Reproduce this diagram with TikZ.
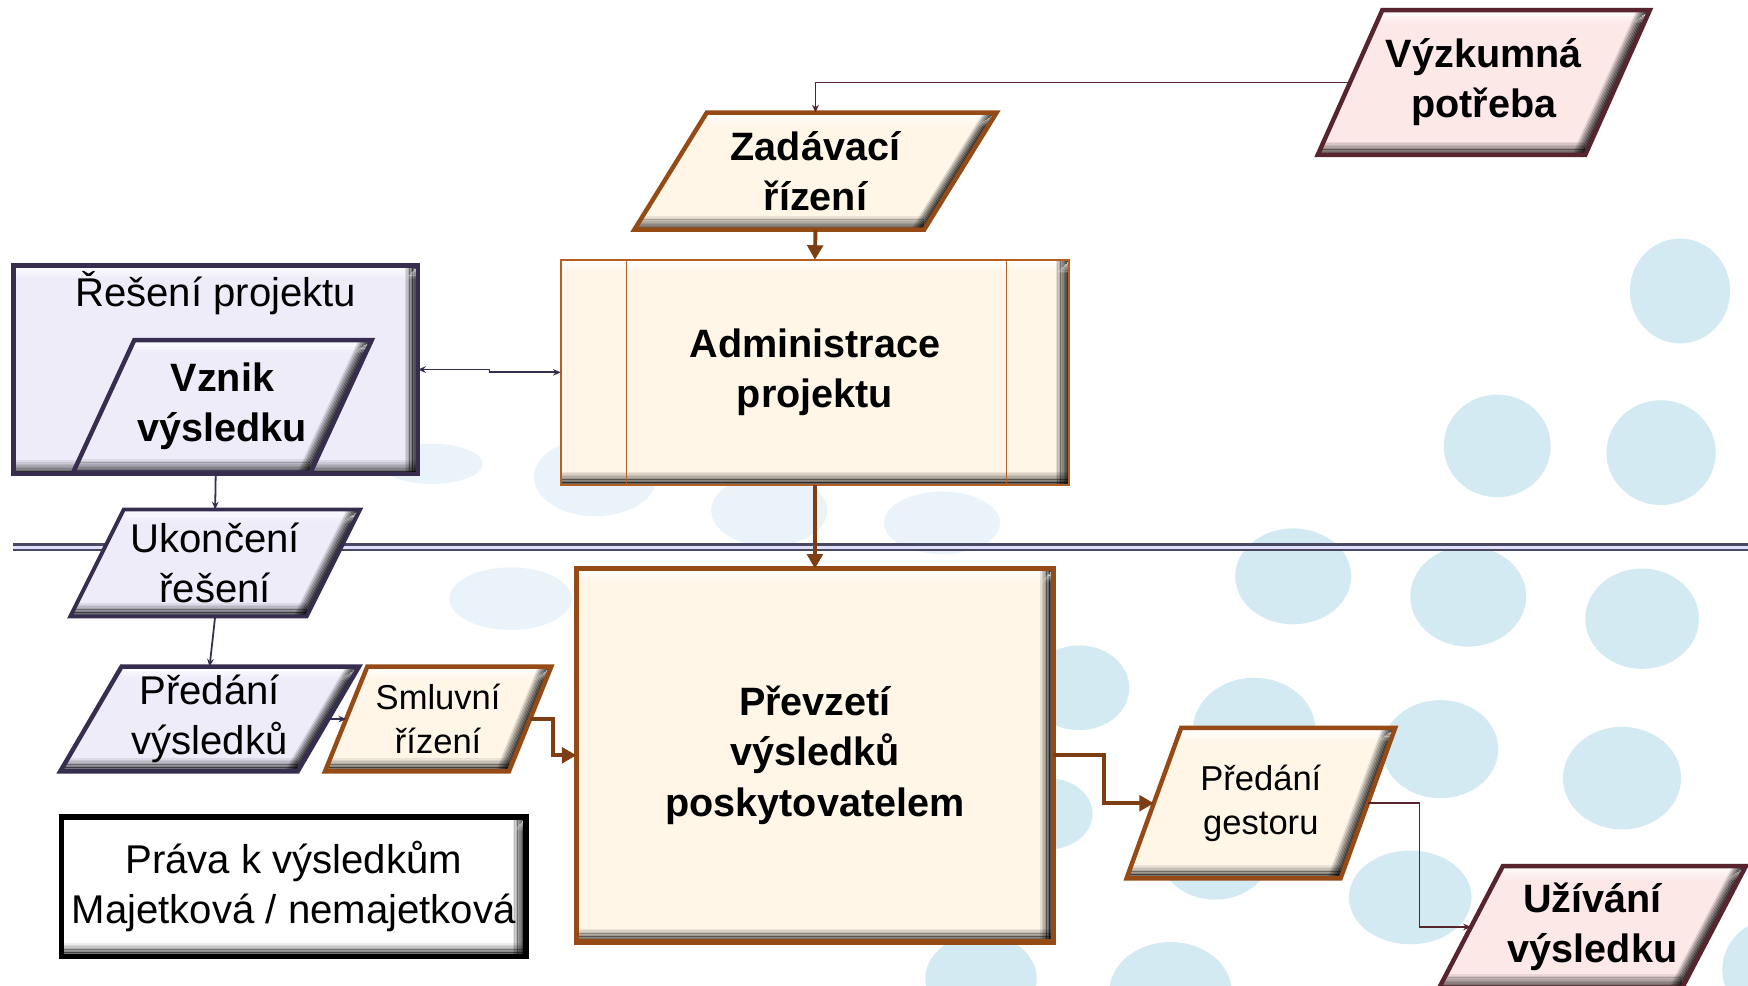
\documentclass[tikz,border=0pt]{standalone}
\usepackage{fontspec}
\setmainfont{Liberation Sans}
\usetikzlibrary{arrows.meta,calc}
\pgfdeclarelayer{dots}
\pgfdeclarelayer{shapes}
\pgfsetlayers{dots,shapes,main}
\definecolor{creamfill}{RGB}{255,246,232}
\definecolor{brownline}{RGB}{150,75,22}
\definecolor{admline}{RGB}{180,95,35}
\definecolor{arrowbrown}{RGB}{125,62,20}
\definecolor{lavfill}{RGB}{239,236,250}
\definecolor{lavline}{RGB}{55,45,78}
\definecolor{pinkfill}{RGB}{253,232,232}
\definecolor{pinkline}{RGB}{88,36,46}
\definecolor{dotblue}{RGB}{211,234,243}
\definecolor{dotpale}{RGB}{234,243,249}
\definecolor{rulecol}{RGB}{72,72,98}

\newcommand{\bevelshape}[5]{%
\begin{pgfonlayer}{shapes}
 \path ($(#1.north west)+(#2/2,0)$) coordinate (#1tl)
       ($(#1.north east)+(#2/2,0)$) coordinate (#1tr)
       ($(#1.south east)+(-#2/2,0)$) coordinate (#1br)
       ($(#1.south west)+(-#2/2,0)$) coordinate (#1bl);
 \begin{scope}
  \clip (#1tl) -- (#1tr) -- (#1br) -- (#1bl) -- cycle;
  \fill[#3] (#1tl) -- (#1tr) -- (#1br) -- (#1bl) -- cycle;
  \foreach \k in {1,...,8} {
    \pgfmathsetmacro{\opa}{0.095*(9-\k)}
    \pgfmathsetmacro{\opb}{0.075*(9-\k)}
    \pgfmathsetmacro{\opc}{0.1*(9-\k)}
    \draw[white, line width=1.6pt, opacity=\opc] ($(#1tl)+(0,\k*1.4)$) -- ($(#1tr)+(0,\k*1.4)$);
    \draw[black, line width=1.6pt, opacity=\opb] ($(#1bl)+(0,-\k*1.4)$) -- ($(#1br)+(0,-\k*1.4)$);
    \draw[black, line width=1.6pt, opacity=\opa] ($(#1tr)+(-\k*1.4,0)$) -- ($(#1br)+(-\k*1.4,0)$);
  }
 \end{scope}
 \draw[#4, line width=#5] (#1tl) -- (#1tr) -- (#1br) -- (#1bl) -- cycle;
\end{pgfonlayer}}

\begin{document}
\begin{tikzpicture}[x=1pt,y=-1pt,
  txt/.style={inner sep=0pt, outer sep=0pt, align=center, text=black},
  bigb/.style={font=\fontsize{35.5}{45}\selectfont\bfseries},
  bigr/.style={font=\fontsize{36}{45}\selectfont},
  smallr/.style={font=\fontsize{31}{40}\selectfont},
  thinpurple/.style={draw=lavline, line width=1.6pt, -{Stealth[length=7pt,width=6pt]}},
  thinmaroon/.style={draw=pinkline, line width=1.6pt, -{Stealth[length=7pt,width=6pt]}},
  twoheads/.style={{Stealth[length=7pt,width=6pt]}-{Stealth[length=7pt,width=6pt]}},
  brownarrow/.style={draw=arrowbrown, line width=3.5pt, -{Triangle[length=13pt,width=14pt]}}]
\useasboundingbox (0,0) rectangle (1568,884);

\begin{pgfonlayer}{dots}
 \fill[white] (0,0) rectangle (1568,884);
 \foreach \cx/\cy/\rx/\ry in {534/428/55/35, 690/458/52/32, 845/469/52/28, 458/537/55/28, 387/416/46/18}
   \fill[dotpale] (\cx,\cy) ellipse [x radius=\rx pt, y radius=\ry pt];
 \foreach \cx/\cy/\rx/\ry in {1507/261/45/47, 1343/400/48/46, 1490/406/49/47, 1160/517/52/43, 1317/535/52/45, 1473/555/51/45, 968/617/45/38, 1125/655/55/47, 1292/672/52/44, 1455/698/53/46, 940/730/40/32, 1265/805/55/42, 1090/765/50/42, 1050/890/55/45, 880/878/50/40, 1590/870/45/45}
   \fill[dotblue] (\cx,\cy) ellipse [x radius=\rx pt, y radius=\ry pt];
 \draw[rulecol, line width=2.2pt, double=white!88!blue, double distance=2.6pt] (12,491) -- (1568,491);
\end{pgfonlayer}

\node[txt,bigb,minimum width=240pt,minimum height=130pt] (vyz) at (1331,74) {Výzkumná\\potřeba};
\bevelshape{vyz}{58}{pinkfill}{pinkline}{4pt}

\node[txt,bigb,minimum width=260pt,minimum height=105pt] (zad) at (731.5,153.5) {Zadávací\\řízení};
\bevelshape{zad}{65}{creamfill}{brownline}{4pt}

\node[txt,bigb,minimum width=456pt,minimum height=202pt] (adm) at (731,334) {Administrace\\projektu};
\bevelshape{adm}{0}{creamfill}{admline}{2pt}
\begin{pgfonlayer}{shapes}
 \draw[admline, line width=1.3pt] ($(adm.north west)+(59,0)$) -- ($(adm.south west)+(59,0)$);
 \draw[admline, line width=1.3pt] ($(adm.north east)+(-56,0)$) -- ($(adm.south east)+(-56,0)$);
\end{pgfonlayer}

\node[txt,minimum width=363pt,minimum height=187pt] (res) at (193.5,331.5) {};
\bevelshape{res}{0}{lavfill}{lavline}{4pt}
\node[txt,bigr,anchor=base] (reslbl) at (193.5,275) {Řešení projektu};

\node[txt,bigb,minimum width=213pt,minimum height=119pt] (vzn) at (199.5,364.5) {Vznik\\výsledku};
\bevelshape{vzn}{55}{lavfill}{lavline}{4pt}

\node[txt,bigr,minimum width=212pt,minimum height=96pt] (uk) at (193,505) {Ukončení\\řešení};
\bevelshape{uk}{48}{lavfill}{lavline}{3.5pt}

\node[txt,bigr,minimum width=213pt,minimum height=94pt] (pv) at (188,645) {Předání\\výsledků};
\bevelshape{pv}{55}{lavfill}{lavline}{4pt}

\node[txt,smallr,minimum width=165pt,minimum height=94pt] (sm) at (393,645) {Smluvní\\řízení};
\bevelshape{sm}{38}{creamfill}{brownline}{4pt}

\node[txt,bigr,minimum width=417pt,minimum height=125pt] (pra) at (263.5,795.5) {Práva k výsledkům\\Majetková / nemajetková};
\bevelshape{pra}{0}{white}{black}{5pt}

\node[txt,bigb,minimum width=428pt,minimum height=335pt] (pr) at (731,677.5) {Převzetí\\výsledků\\poskytovatelem};
\bevelshape{pr}{0}{creamfill}{brownline}{5pt}

\node[txt,smallr,minimum width=192pt,minimum height=135pt] (ges) at (1131,720.5) {Předání\\gestoru};
\bevelshape{ges}{49}{creamfill}{brownline}{4pt}

\node[txt,bigb,minimum width=218pt,minimum height=109pt] (uz) at (1428.5,831.5) {Užívání\\výsledku};
\bevelshape{uz}{57}{pinkfill}{pinkline}{4pt}

\draw[thinmaroon] (vyz.west) -| (zad.north);
\draw[brownarrow] (zad.south) -- (adm.north);
\coordinate (m1) at ($(res.east)!0.5!(adm.west)$);
\draw[thinpurple, twoheads] (res.east) -- (res.east -| m1) -- (adm.west -| m1) -- (adm.west);
\draw[thinpurple] (res.south) -- (uk.north);
\draw[thinpurple] (uk.south) -- (pv.north);
\draw[thinpurple] (pv.east) -- (sm.west);
\coordinate (m2) at ($(sm.east)!0.5!(pr.west)$);
\draw[brownarrow] (sm.east) -- (sm.east -| m2) -- (pr.west -| m2) -- (pr.west);
\draw[brownarrow] (adm.south) -- (pr.north);
\coordinate (m3) at ($(pr.east)!0.5!(ges.west)$);
\draw[brownarrow] (pr.east) -- (pr.east -| m3) -- (ges.west -| m3) -- (ges.west);
\coordinate (m4) at ($(ges.east)!0.5!(uz.west)$);
\draw[thinmaroon] (ges.east) -- (ges.east -| m4) -- (uz.west -| m4) -- (uz.west);
\end{tikzpicture}
\end{document}
